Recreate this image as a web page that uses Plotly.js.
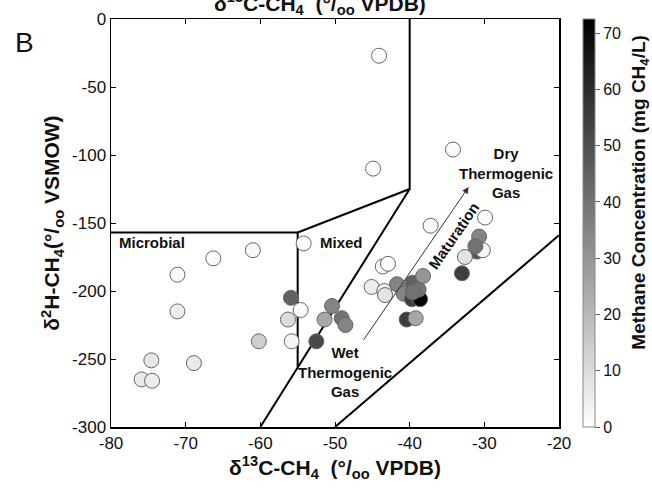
<!DOCTYPE html>
<html>
<head>
<meta charset="utf-8">
<script src="https://cdn.plot.ly/plotly-3.0.1.min.js"></script>
<style>html,body{margin:0;padding:0;background:#fff;}#chart{width:652px;height:488px;}</style>
</head>
<body>
<div id="chart"></div>
<script>
// Sample values: d13C-CH4 (per mil VPDB), d2H-CH4 (per mil VSMOW), methane concentration (mg CH4/L)
var d13C = [-75.9, -74.5, -74.6, -71.1, -71.1, -66.3, -68.9, -61.0, -60.2, -55.9,
            -56.3, -55.8, -54.6, -54.2, -52.5, -51.4, -50.4, -49.1, -48.6, -45.1,
            -43.6, -42.9, -43.4, -43.3, -44.1, -44.9, -41.7, -40.8, -39.6, -38.2,
            -39.7, -38.6, -38.8, -39.6, -40.4, -39.2, -37.2, -34.2, -29.9, -30.7,
            -31.0, -30.2, -31.2, -32.6, -33.0];
var d2H = [-265, -266, -251, -188, -215, -176, -253, -170, -237, -205,
           -221, -237, -214, -165, -237, -221, -211, -220, -225, -197,
           -182, -180, -200, -203, -27, -110, -195, -202, -194, -189,
           -206, -206, -199, -201, -221, -220, -152, -96, -146, -160,
           -171, -170, -167, -175, -187];
var methane = [6, 5, 7, 1, 5, 1, 6, 2, 14, 45,
               10, 3, 1, 1, 52, 25, 35, 40, 35, 5,
               2, 1, 3, 8, 0, 0, 35, 35, 45, 30,
               55, 72, 40, 40, 55, 25, 1, 1, 1, 35,
               48, 2, 40, 8, 55];

// Genetic-field boundaries (vertex values, null separates segments)
var boundaryX = [-80, -55, -55, null, -55, -40, -40, null, -60, -40, null, -50, -20];
var boundaryY = [-157, -157, -256, null, -157, -125, 0, null, -300, -125, null, -300, -159];

// Maturation trend (tail -> head)
var maturationX = [-46.3, -32.1];
var maturationY = [-237, -123.5];

// Field labels
var fieldLabels = ['Microbial', 'Mixed', 'Dry<br>Thermogenic<br>Gas', 'Wet<br>Thermogenic<br>Gas'];
var fieldLabelX = [-74.5, -49.1, -27.1, -48.7];
var fieldLabelY = [-164, -164, -113, -259.6];

// Axis ticks
var xTickVals = [-80, -70, -60, -50, -40, -30, -20];
var xTickText = ['-80', '-70', '-60', '-50', '-40', '-30', '-20'];
var yTickVals = [-300, -250, -200, -150, -100, -50, 0];
var yTickText = ['-300', '-250', '-200', '-150', '-100', '-50', '0'];
var cbTickVals = [0, 10, 20, 30, 40, 50, 60, 70];

var FONT = 'Liberation Sans, Arial, Helvetica, sans-serif';
var xTitle = 'δ<sup>13</sup>C-CH<sub>4</sub>  (°/<sub>oo</sub> VPDB)';
var yTitle = 'δ<sup>2</sup>H-CH<sub>4</sub>(°/<sub>oo</sub> VSMOW)';
var cbTitle = 'Methane Concentration (mg CH<sub>4</sub>/L)';

var traces = [
  {
    x: boundaryX, y: boundaryY, type: 'scatter', mode: 'lines',
    line: {color: '#000', width: 2}, hoverinfo: 'skip', showlegend: false, connectgaps: false
  },
  {
    x: d13C, y: d2H, type: 'scatter', mode: 'markers', showlegend: false,
    marker: {
      size: 15, color: methane, cmin: 0, cmax: 72.5,
      colorscale: [[0, '#ffffff'], [1, '#000000']],
      line: {color: '#666', width: 1},
      colorbar: {
        x: 1.0536, xanchor: 'left', xpad: 0, y: 0.5, yanchor: 'middle', ypad: 0,
        len: 1, lenmode: 'fraction', thickness: 12, thicknessmode: 'pixels',
        outlinecolor: '#888', outlinewidth: 1,
        tickvals: cbTickVals, ticks: 'outside', ticklen: 5, tickcolor: '#666',
        tickfont: {family: FONT, size: 16, color: '#111'}
      }
    }
  }
];

var annotations = [];
for (var i = 0; i < fieldLabels.length; i++) {
  annotations.push({
    x: fieldLabelX[i], y: fieldLabelY[i], xref: 'x', yref: 'y', text: fieldLabels[i],
    showarrow: false, font: {family: FONT, size: 15, color: '#111', weight: 'bold'}
  });
}
annotations.push({
  x: maturationX[1], y: maturationY[1], ax: maturationX[0], ay: maturationY[0],
  xref: 'x', yref: 'y', axref: 'x', ayref: 'y', text: '',
  showarrow: true, arrowhead: 2, arrowsize: 1.3, arrowwidth: 1, arrowcolor: '#333'
});
annotations.push({
  x: -34.1, y: -159, xref: 'x', yref: 'y', text: 'Maturation', textangle: -55.5,
  showarrow: false, font: {family: FONT, size: 15, color: '#111', weight: 'bold'}
});
annotations.push({
  x: -0.219, y: 0.985, xref: 'paper', yref: 'paper', text: 'B', showarrow: false,
  font: {family: FONT, size: 28, color: '#111'}
});
// top title of the panel above, cut off by the figure edge
annotations.push({
  x: 0.4665, y: 1.039, xref: 'paper', yref: 'paper', text: xTitle, showarrow: false,
  yanchor: 'middle', font: {family: FONT, size: 21, color: '#111', weight: 'bold'}
});
// colorbar title
annotations.push({
  x: 1.18, y: 0.576, xref: 'paper', yref: 'paper', xanchor: 'center', yanchor: 'middle',
  text: cbTitle, textangle: -90, showarrow: false,
  font: {family: FONT, size: 19, color: '#111', weight: 'bold'}
});

var axisCommon = {
  showgrid: false, zeroline: false, showline: true, linecolor: '#000', linewidth: 1.5,
  mirror: 'ticks', ticks: 'inside', ticklen: 5, tickcolor: '#000', tickwidth: 1,
  tickfont: {family: FONT, size: 17, color: '#111'}, tickmode: 'array'
};

var layout = {
  width: 652, height: 488,
  margin: {l: 111, r: 93, t: 19, b: 61},
  paper_bgcolor: '#fff', plot_bgcolor: '#fff',
  font: {family: FONT, color: '#111'},
  xaxis: Object.assign({}, axisCommon, {
    range: [-80, -20], tickvals: xTickVals, ticktext: xTickText,
    title: {text: xTitle, standoff: 6, font: {family: FONT, size: 21, color: '#111', weight: 'bold'}}
  }),
  yaxis: Object.assign({}, axisCommon, {
    range: [-300, 0], tickvals: yTickVals, ticktext: yTickText,
    title: {text: yTitle, standoff: 6,
            font: {family: FONT, size: 21, color: '#111', weight: 'bold'}}
  }),
  annotations: annotations,
  showlegend: false
};

Plotly.newPlot('chart', traces, layout, {displayModeBar: false, staticPlot: true});
</script>
</body>
</html>
